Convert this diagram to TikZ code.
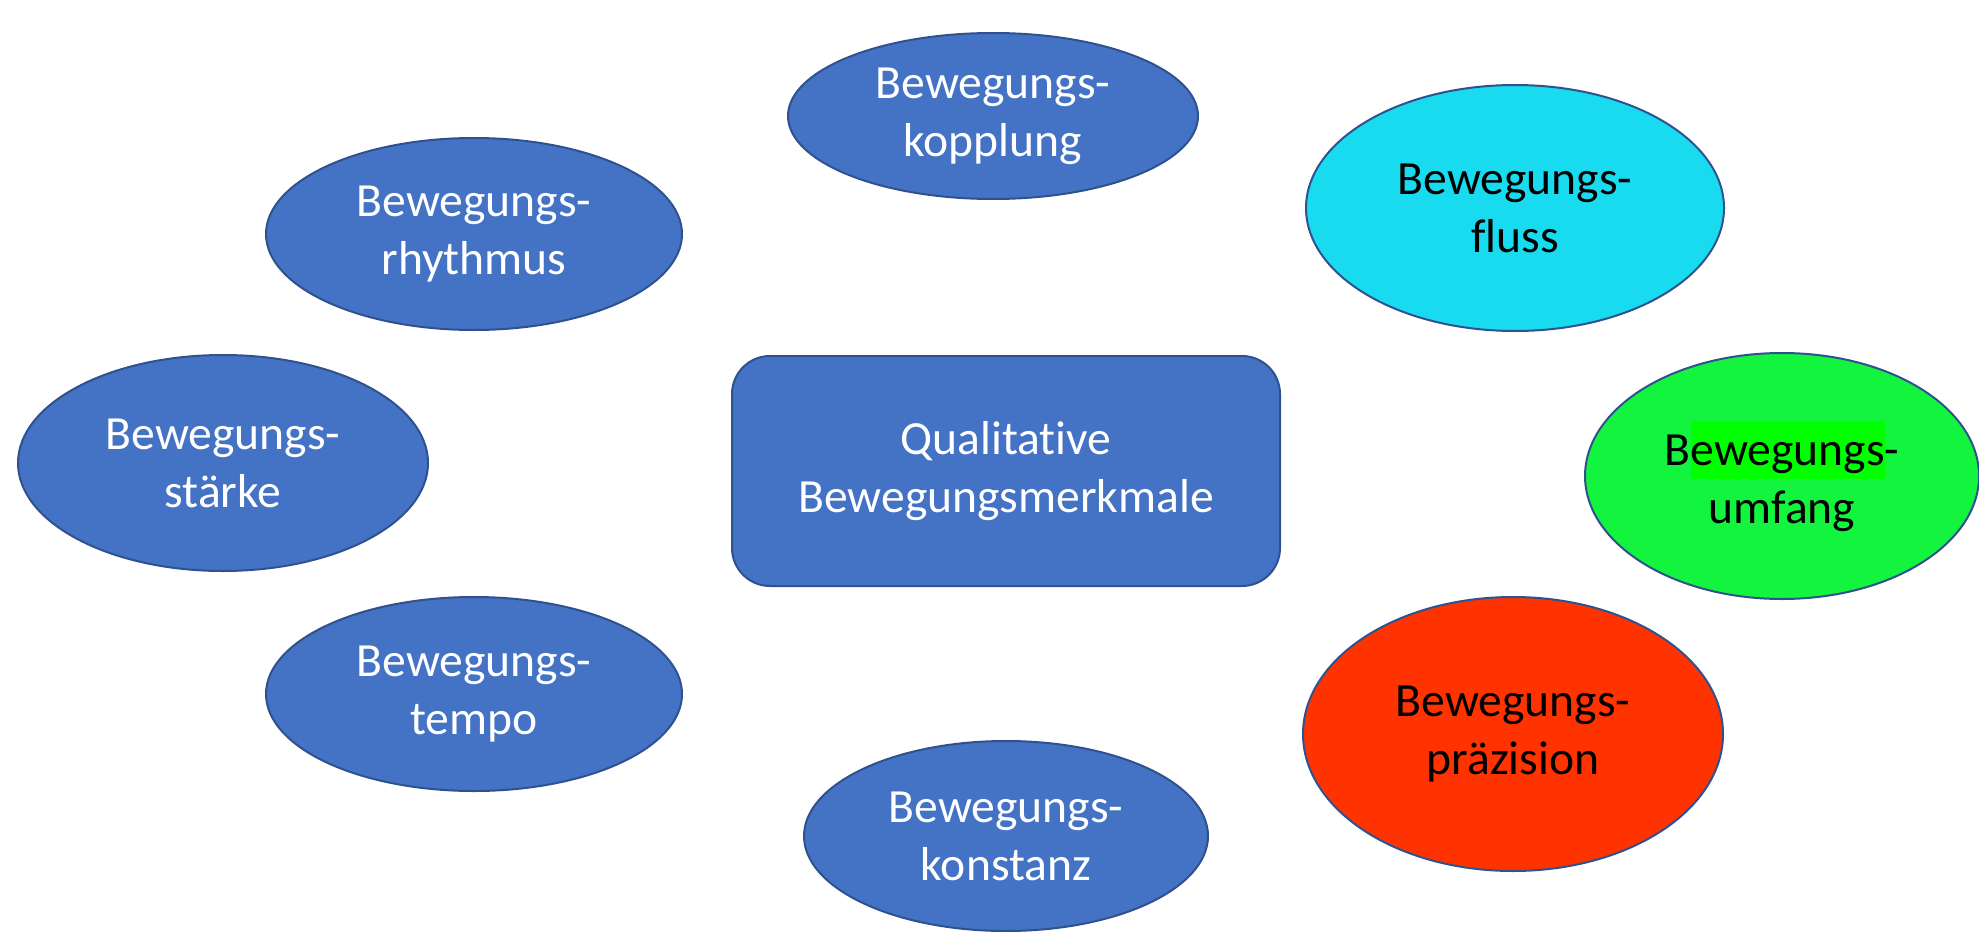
\documentclass[tikz,border=0pt]{standalone}
\usepackage{fontspec}
\setmainfont[Ligatures=NoCommon]{Carlito}
\usetikzlibrary{shapes.geometric}

\definecolor{kblue}{HTML}{4472C4}
\definecolor{kedge}{HTML}{2F528F}
\definecolor{kcyan}{HTML}{19DBEF}
\definecolor{kgreen}{HTML}{13F43E}
\definecolor{kred}{HTML}{FF3300}
\definecolor{khigh}{HTML}{00FF00}

\newcommand\hlmark[1]{{\setlength{\fboxsep}{0pt}\colorbox{khigh}{\rule[-0.29em]{0pt}{1.23em}#1}}}

\begin{document}
\begin{tikzpicture}[
  x=0.5pt, y=-0.5pt,
  merkmal/.style={ellipse, draw=kedge, line width=1pt, fill=kblue, text=white,
    inner sep=0pt, align=center, font=\fontsize{23.8}{29}\selectfont},
  titel/.style={rectangle, rounded corners=19pt, draw=kedge, line width=1pt, fill=kblue,
    text=white, inner sep=0pt, align=center, font=\fontsize{23.8}{29}\selectfont,
    minimum width=274pt, minimum height=115pt},
  dunkel/.style={text=black}
]
  \useasboundingbox (0,0) rectangle (1979,931);

  \node (titel) [titel] at (1006,471) {Qualitative\\Bewegungsmerkmale};

  \node (kopplung) [merkmal, minimum width=205pt, minimum height=83pt] at (993,116) {Bewegungs-\\kopplung};
  \node (rhythmus) [merkmal, minimum width=208pt, minimum height=96pt] at (474,234) {Bewegungs-\\rhythmus};
  \node (staerke) [merkmal, minimum width=205pt, minimum height=108pt] at (223,463) {Bewegungs-\\stärke};
  \node (tempo) [merkmal, minimum width=208pt, minimum height=97pt] at (474,694) {Bewegungs-\\tempo};
  \node (konstanz) [merkmal, minimum width=202pt, minimum height=95pt] at (1006,836) {Bewegungs-\\konstanz};

  \node (fluss) [merkmal, dunkel, fill=kcyan, minimum width=209pt, minimum height=123pt] at (1515,208) {Bewegungs-\\fluss};
  \node (umfang) [merkmal, dunkel, fill=kgreen, minimum width=197pt, minimum height=123pt] at (1782,476) {B\hlmark{ewegungs}-\\umfang};
  \node (praezision) [merkmal, dunkel, fill=kred, minimum width=210pt, minimum height=137pt] at (1513,734) {Bewegungs-\\präzision};
\end{tikzpicture}
\end{document}
